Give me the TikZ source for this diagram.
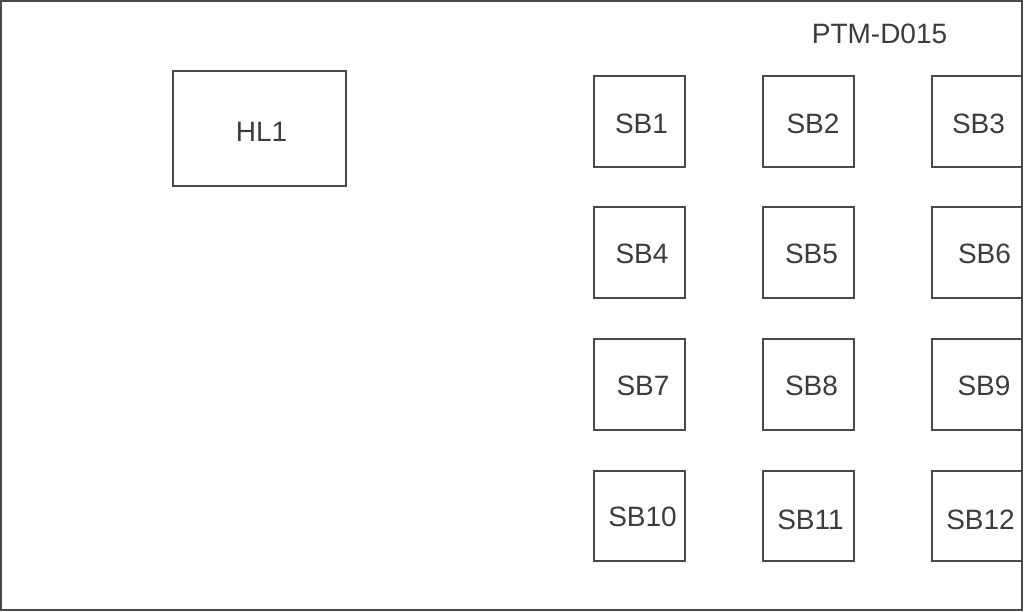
\documentclass[tikz,border=0pt]{standalone}
\usepackage{fontspec}
\setmainfont{Liberation Sans}
\begin{document}
\begin{tikzpicture}[x=1pt,y=-1pt,
  frame/.style={draw=boxgray,line width=2pt},
  sbbox/.style={draw=boxgray,line width=2pt,fill=white},
  lbl/.style={text=txtgray,font=\fontsize{28}{31}\selectfont,inner sep=0pt,anchor=center}]
\definecolor{boxgray}{HTML}{4A4A4A}
\definecolor{txtgray}{HTML}{3C3C3C}
\useasboundingbox (0,0) rectangle (1024,611);
\fill[white] (0,0) rectangle (1024,611);
\draw[frame] (1,1) rectangle (1022,609.5);
% HL1
\draw[sbbox] (173,71) rectangle (346,186);
\node[lbl] (hl1) at (261.5,131.5) {HL1};
% SB boxes
\foreach \c/\xa/\xb in {1/594/685,2/763/854,3/931.5/1022}{
  \foreach \r/\ya/\yb in {1/75.5/166.5,2/207/298,3/339/429.5,4/470.5/561}{
    \draw[sbbox] (\xa,\ya) rectangle (\xb,\yb);
  }
}
\draw[boxgray,line width=2pt] (1022,1) -- (1022,609.5);
\node[lbl] (sb1) at (641.5,123.5) {SB1};
\node[lbl] (sb2) at (813,123.5) {SB2};
\node[lbl] (sb3) at (978.5,123.5) {SB3};
\node[lbl] (sb4) at (642,253.5) {SB4};
\node[lbl] (sb5) at (811.5,253.5) {SB5};
\node[lbl] (sb6) at (984.5,253.5) {SB6};
\node[lbl] (sb7) at (643,386) {SB7};
\node[lbl] (sb8) at (811.5,386) {SB8};
\node[lbl] (sb9) at (984,386) {SB9};
\node[lbl] (sb10) at (642.5,516.5) {SB10};
\node[lbl] (sb11) at (810.5,519.5) {SB11};
\node[lbl] (sb12) at (980.5,519.5) {SB12};
\node[lbl] (ptm) at (879.5,34) {PTM-D015};
\end{tikzpicture}
\end{document}
